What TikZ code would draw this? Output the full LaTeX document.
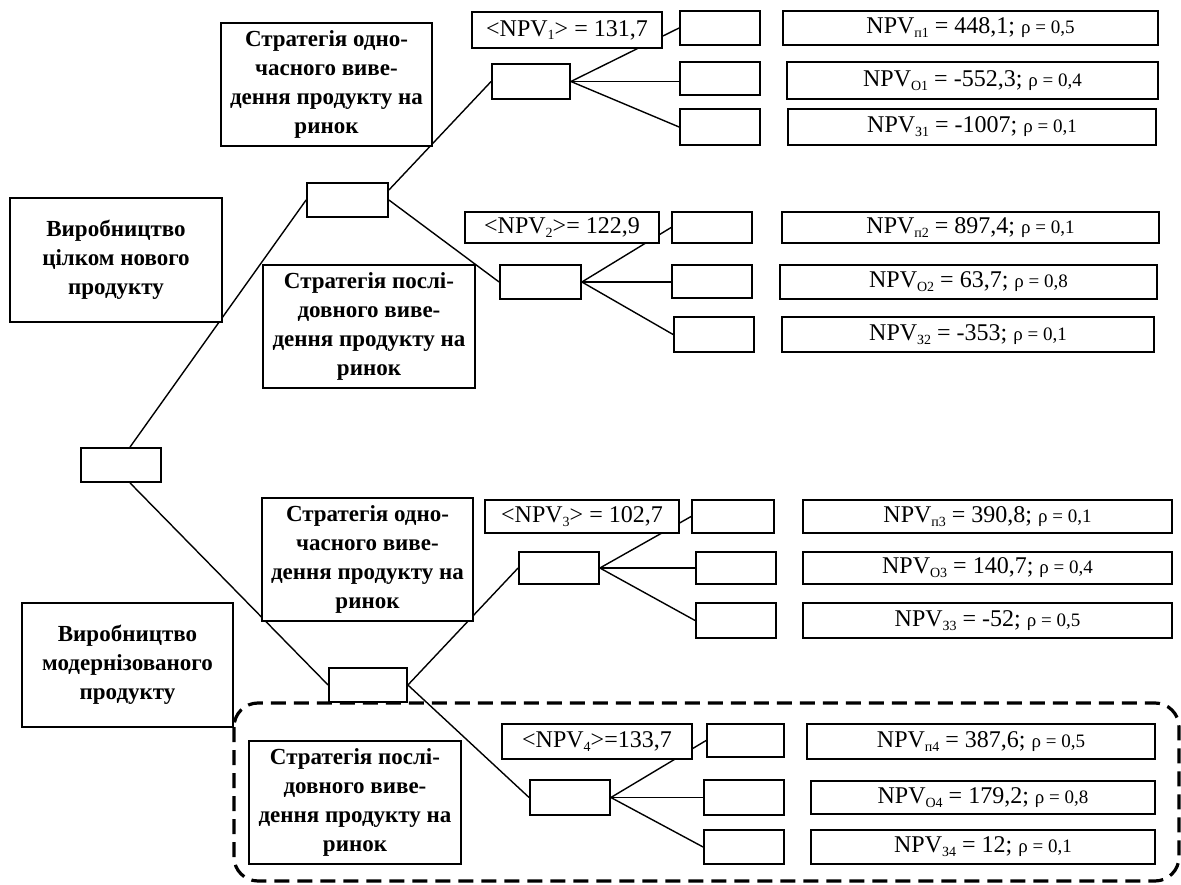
\documentclass[tikz,border=0pt]{standalone}
\usepackage{fontspec}
\setmainfont{Liberation Serif}
\usetikzlibrary{backgrounds}
\tikzset{
  box/.style={draw, line width=1.8pt, fill=white, inner sep=0pt, align=center},
  btxt/.style={font=\fontsize{23}{29}\selectfont\bfseries},
  ntxt/.style={font=\fontsize{24}{27}\selectfont},
  conn/.style={line width=1.4pt},
  dashbox/.style={line width=3.2pt, dash pattern=on 15pt off 8pt, rounded corners=24pt}
}
\newcommand\bx[7][]{\node[box,#1,minimum width={(#5-#3)*1pt},minimum height={(#6-#4)*1pt}] (#2) at ({(#3+#5)/2},{(#4+#6)/2}) {#7};}
\newcommand\pr[1]{{\fontsize{19}{20}\selectfont ρ = #1}}
\newcommand\sbs[1]{\raisebox{-0.35ex}{\fontsize{14}{14}\selectfont #1}}
\begin{document}
\begin{tikzpicture}[x=1pt,y=-1pt]
\useasboundingbox (0,0) rectangle (1181,885);
% ---- main nodes
\bx[btxt]{fullnew}{10}{198}{222}{322}{Виробництво\\цілком нового\\продукту}
\bx[btxt]{modern}{22}{603}{233}{727}{Виробництво\\модернізованого\\продукту}
\bx[btxt]{stA1}{221}{23}{432}{146}{Стратегія одно-\\часного виве-\\дення продукту на\\ринок}
\bx[btxt]{stB1}{263}{265}{475}{388}{Стратегія послі-\\довного виве-\\дення продукту на\\ринок}
\bx[btxt]{stA2}{262}{498}{473}{621}{Стратегія одно-\\часного виве-\\дення продукту на\\ринок}
\bx[btxt]{stB2}{249}{741}{461}{864}{Стратегія послі-\\довного виве-\\дення продукту на\\ринок}
\bx{root}{81}{448}{161}{482}{}
\bx{nT}{307}{183}{388}{217}{}
\bx{nB}{329}{668}{407}{702}{}
% ---- section 1
\bx{n1}{492}{64}{570}{99}{}
\bx[ntxt]{e1}{472}{12}{662}{48}{<NPV\sbs{1}> = 131,7}
\bx{s11}{680}{11}{760}{45}{}
\bx{s12}{680}{62}{760}{95}{}
\bx{s13}{680}{109}{760}{145}{}
\bx[ntxt]{r11}{783}{11}{1158}{45}{NPV\sbs{п1} = 448,1; \pr{0,5}}
\bx[ntxt]{r12}{787}{62}{1158}{99}{NPV\sbs{О1} = -552,3; \pr{0,4}}
\bx[ntxt]{r13}{788}{109}{1156}{145}{NPV\sbs{З1} = -1007; \pr{0,1}}
% ---- section 2
\bx{n2}{500}{265}{581}{299}{}
\bx[ntxt]{e2}{465}{212}{659}{243}{<NPV\sbs{2}>= 122,9}
\bx{s21}{672}{212}{752}{243}{}
\bx{s22}{672}{265}{752}{298}{}
\bx{s23}{674}{317}{754}{352}{}
\bx[ntxt]{r21}{782}{212}{1159}{243}{NPV\sbs{п2} = 897,4; \pr{0,1}}
\bx[ntxt]{r22}{780}{265}{1157}{299}{NPV\sbs{О2} = 63,7; \pr{0,8}}
\bx[ntxt]{r23}{782}{317}{1154}{352}{NPV\sbs{З2} = -353; \pr{0,1}}
% ---- section 3
\bx{n3}{519}{552}{599}{584}{}
\bx[ntxt]{e3}{485}{500}{679}{533}{<NPV\sbs{3}> = 102,7}
\bx{s31}{692}{500}{774}{533}{}
\bx{s32}{696}{552}{776}{584}{}
\bx{s33}{696}{603}{776}{638}{}
\bx[ntxt]{r31}{803}{500}{1172}{533}{NPV\sbs{п3} = 390,8; \pr{0,1}}
\bx[ntxt]{r32}{803}{552}{1172}{584}{NPV\sbs{О3} = 140,7; \pr{0,4}}
\bx[ntxt]{r33}{803}{603}{1172}{638}{NPV\sbs{З3} = -52; \pr{0,5}}
% ---- section 4
\bx{n4}{530}{780}{610}{815}{}
\bx[ntxt]{e4}{502}{724}{692}{759}{<NPV\sbs{4}>=133,7}
\bx{s41}{707}{724}{784}{757}{}
\bx{s42}{704}{780}{784}{815}{}
\bx{s43}{704}{830}{784}{864}{}
\bx[ntxt]{r41}{807}{724}{1155}{759}{NPV\sbs{п4} = 387,6; \pr{0,5}}
\bx[ntxt]{r42}{811}{781}{1155}{814}{NPV\sbs{О4} = 179,2; \pr{0,8}}
\bx[ntxt]{r43}{811}{830}{1155}{864}{NPV\sbs{З4} = 12; \pr{0,1}}
% ---- background: dashed frame and connectors
\begin{pgfonlayer}{background}
\draw[dashbox] (234,703) rectangle (1179,881);
\draw[conn] ([xshift=9pt]root.north) -- (nT.west);
\draw[conn] ([xshift=9pt]root.south) -- (nB.west);
\draw[conn] ([yshift=10pt]nT.east) -- (n1.west);
\draw[conn] (nT.east) -- (n2.west);
\draw[conn] (nB.east) -- (n3.west);
\draw[conn] (nB.east) -- (n4.west);
\foreach \n/\a/\b/\c in {n1/s11/s12/s13, n2/s21/s22/s23, n3/s31/s32/s33, n4/s41/s42/s43}{
  \draw[conn] (\n.east) -- (\a.west);
  \draw[conn] (\n.east) -- (\n.east -| \b.west);
  \draw[conn] (\n.east) -- (\c.west);
}
\end{pgfonlayer}
\end{tikzpicture}
\end{document}
